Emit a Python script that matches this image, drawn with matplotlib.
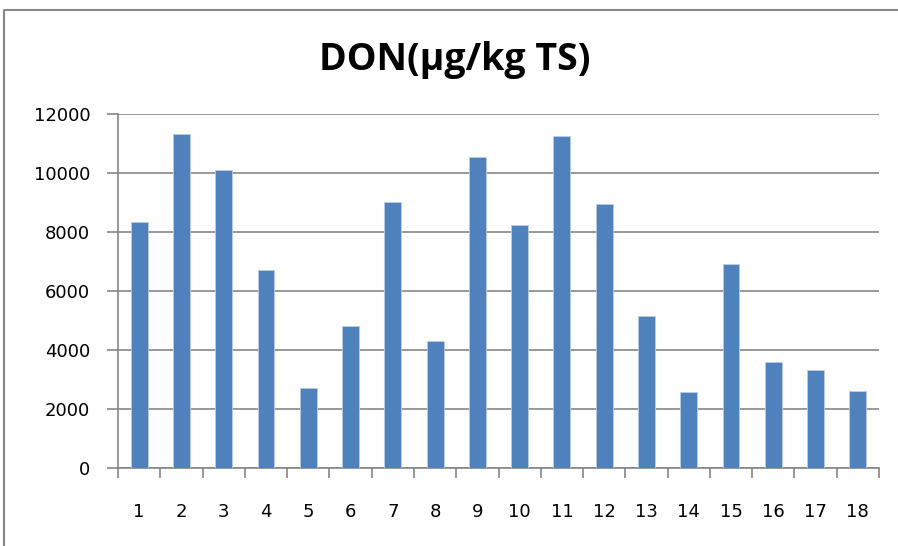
import numpy as np
import matplotlib.pyplot as plt
from matplotlib.lines import Line2D

# DON values per sample
samples = [str(i) for i in range(1, 19)]
don = [8340, 11320, 10120, 6720, 2720, 4830, 9030, 4320, 10550,
       8260, 11280, 8950, 5160, 2600, 6940, 3620, 3320, 2620]

fig = plt.figure(figsize=(8.98, 5.46), dpi=100)
ax = fig.add_axes([118 / 898, 1 - 468.3 / 546, (879 - 118) / 898, (468.3 - 114.3) / 546])

x = np.arange(len(samples))
ax.bar(x, don, width=0.4, color='#4F81BD', edgecolor='#B9CDE5', linewidth=0.6, zorder=3)

ax.set_xlim(-0.5, len(samples) - 0.5)
ax.set_ylim(0, 12000)
ax.set_yticks(range(0, 12001, 2000))
ax.yaxis.grid(True, color='#868686', linewidth=1.2, zorder=0)

ax.set_xticks(x)
ax.set_xticklabels(samples)
ax.set_xticks(np.arange(-0.5, len(samples)), minor=True)
ax.tick_params(axis='x', which='major', length=0, pad=25, labelsize=13)
ax.tick_params(axis='x', which='minor', length=7, color='#868686', width=1.2)
ax.tick_params(axis='y', length=8, color='#868686', width=1.2, pad=12, labelsize=13)

for side in ['top', 'right']:
    ax.spines[side].set_visible(False)
ax.spines['left'].set_color('#868686')
ax.spines['bottom'].set_color('#868686')
ax.spines['left'].set_linewidth(1.2)
ax.spines['bottom'].set_linewidth(1.2)

fig.text(455 / 898, 1 - 70 / 546, 'DON(µg/kg TS)', ha='center', va='baseline',
         fontsize=27, fontweight='bold', family='Open Sans')

# outer chart frame (only left and top edges visible)
fx, fy = 4 / 898, 1 - 10 / 546
fig.add_artist(Line2D([fx, fx, 1], [0, fy, fy], color='#888888', linewidth=1.5,
                      transform=fig.transFigure))

fig.savefig('out.png', dpi=100)
